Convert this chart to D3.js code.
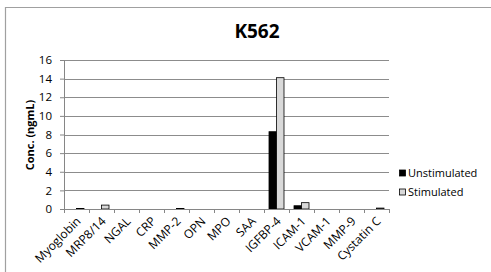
<!DOCTYPE html>
<html>
<head>
<meta charset="utf-8">
<script src="https://cdn.jsdelivr.net/npm/d3@7"></script>
<style>
body { margin: 0; background: #fff; }
svg text { font-family: "Open Sans", "Liberation Sans", sans-serif; }
</style>
</head>
<body>
<svg width="491" height="272"></svg>
<script>
const categories = ['Myoglobin', 'MRP8/14', 'NGAL', 'CRP', 'MMP-2', 'OPN', 'MPO', 'SAA', 'IGFBP-4', 'ICAM-1', 'VCAM-1', 'MMP-9', 'Cystatin C'];
const unstimulated = [0, 0, 0, 0, 0, 0, 0, 0, 8.3, 0.35, 0, 0, 0];
const stimulated = [0.05, 0.42, 0, 0, 0.05, 0, 0, 0, 14.1, 0.68, 0, 0, 0.1];
const seriesNames = ['Unstimulated', 'Stimulated'];
const yTicks = [0, 2, 4, 6, 8, 10, 12, 14, 16];

const svg = d3.select('svg');

// chart frame
svg.append('path')
    .attr('d', 'M5.5,272 V7.5 H491')
    .attr('fill', 'none')
    .attr('stroke', '#a0a0a0')
    .attr('stroke-width', 1.2);

const margin = { top: 60, left: 64 };
const innerWidth = 325;
const innerHeight = 149;

const g = svg.append('g')
    .attr('transform', `translate(${margin.left},${margin.top})`);

const x = d3.scaleBand().domain(categories).range([0, innerWidth]);
const x1 = d3.scaleBand().domain(seriesNames).range([0, 15]);
const y = d3.scaleLinear().domain([0, 16]).range([innerHeight, 0]);

// gridlines
g.selectAll('.grid')
    .data(yTicks.slice(1))
    .enter().append('line')
    .attr('x1', 0).attr('x2', innerWidth)
    .attr('y1', d => Math.round(y(d)) + 0.5).attr('y2', d => Math.round(y(d)) + 0.5)
    .attr('stroke', '#8c8c8c');

const data = categories.map((c, i) => ({ c, vals: [unstimulated[i], stimulated[i]] }));
const fills = ['#000000', '#d9d9d9'];

const groups = g.selectAll('.grp')
    .data(data)
    .enter().append('g')
    .attr('transform', d => `translate(${x(d.c) + (x.bandwidth() - 15) / 2},0)`);

groups.selectAll('rect')
    .data(d => d.vals.map((v, i) => ({ v, s: seriesNames[i], i })))
    .enter().append('rect')
    .attr('x', d => x1(d.s))
    .attr('y', d => y(d.v))
    .attr('width', x1.bandwidth())
    .attr('height', d => innerHeight - y(d.v))
    .attr('fill', d => fills[d.i])
    .attr('stroke', d => d.v > 0 ? '#000' : 'none')
    .attr('stroke-width', 0.8);

// y axis
const yAxis = g.append('g')
    .call(d3.axisLeft(y).tickValues(yTicks).tickSize(4).tickPadding(8));
yAxis.attr('font-family', null);
yAxis.select('.domain').attr('stroke', '#868686');
yAxis.selectAll('.tick line').attr('stroke', '#868686');
yAxis.selectAll('text').attr('font-size', 11.5).attr('fill', '#000');

// x axis line and ticks
const xAxis = g.append('g')
    .attr('transform', `translate(0,${innerHeight})`)
    .call(d3.axisBottom(x).tickSize(0).tickFormat(''));
xAxis.select('.domain').attr('stroke', '#868686');
g.selectAll('.xtick')
    .data(categories.concat(['end']))
    .enter().append('line')
    .attr('x1', (d, i) => i * x.step() + 0.5)
    .attr('x2', (d, i) => i * x.step() + 0.5)
    .attr('y1', innerHeight).attr('y2', innerHeight + 4)
    .attr('stroke', '#868686');

// rotated category labels
const lx = d => x(d) + x.bandwidth() / 2 + 5;
const ly = innerHeight + 13;
g.selectAll('.xlabel')
    .data(categories)
    .enter().append('text')
    .attr('x', lx)
    .attr('y', ly)
    .attr('transform', d => `rotate(-45 ${lx(d)} ${ly})`)
    .style('text-anchor', 'end')
    .style('font-size', '12px')
    .text(d => d);

// titles
svg.append('text')
    .attr('x', 257).attr('y', 38)
    .attr('text-anchor', 'middle')
    .attr('font-size', 19).attr('font-weight', 'bold')
    .text('K562');

svg.append('text')
    .attr('transform', 'translate(34,135) rotate(-90)')
    .attr('text-anchor', 'middle')
    .attr('font-size', 11).attr('font-weight', 'bold')
    .text('Conc. (ngmL)');

// legend
const legend = svg.append('g').attr('transform', 'translate(399,173)');
seriesNames.forEach((s, i) => {
    const row = legend.append('g').attr('transform', `translate(0,${i * 19})`);
    row.append('rect')
        .attr('x', 0.5).attr('y', -3).attr('width', 6).attr('height', 6)
        .attr('fill', fills[i]).attr('stroke', '#000').attr('stroke-width', 0.8);
    row.append('text')
        .attr('x', 9).attr('y', 0)
        .attr('dy', '0.35em')
        .attr('font-size', 11)
        .text(s);
});
</script>
</body>
</html>
